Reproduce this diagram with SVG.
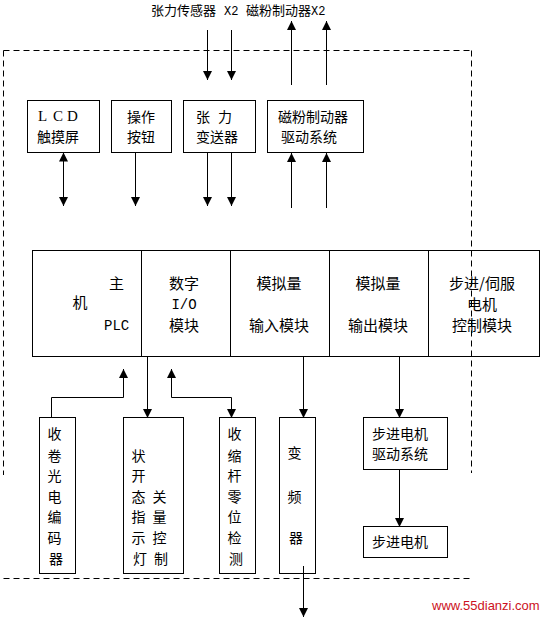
<svg xmlns="http://www.w3.org/2000/svg" width="545" height="618" viewBox="0 0 545 618">
<style>
  .box { fill: none; stroke: #000; stroke-width: 1; }
  .wb { fill: #fff; stroke: #000; stroke-width: 1; }
  .dash { fill: none; stroke: #000; stroke-width: 1; stroke-dasharray: 6 4; }
  .ln { fill: none; stroke: #000; stroke-width: 1; }
  .cn { font-family: "Noto Sans CJK SC", "DejaVu Sans", sans-serif; font-size: 14px; fill: #000; }
  .cm { font-family: "Noto Sans CJK SC", "DejaVu Sans", sans-serif; font-size: 15px; fill: #000; }
  .ct { font-family: "Noto Sans CJK SC", "DejaVu Sans", sans-serif; font-size: 13px; fill: #000; }
  .mono { font-family: "Liberation Mono", "DejaVu Sans Mono", monospace; fill: #000; }
  .serif { font-family: "Liberation Serif", "DejaVu Serif", serif; fill: #000; }
  .mid { text-anchor: middle; }
</style>
<defs>
  <marker id="ah" viewBox="0 0 10 10" refX="10" refY="5" markerWidth="9" markerHeight="9" markerUnits="userSpaceOnUse" orient="auto-start-reverse">
    <path d="M0,0 L10,5 L0,10 z" fill="#000"/>
  </marker>
</defs>
<rect width="545" height="618" fill="#fff"/>

<!-- top labels -->
<g id="top-labels">
  <text class="ct" x="151" y="15">张力传感器</text>
  <text class="mono" font-size="12" x="224" y="15">X2</text>
  <text class="ct" x="246" y="15">磁粉制动器</text>
  <text class="mono" font-size="12" x="311" y="15">X2</text>
</g>

<!-- top boxes -->
<g id="lcd">
  <rect class="wb" x="27.5" y="100.5" width="72" height="52"/>
  <text class="serif" font-size="15" x="38 53 67" y="121">LCD</text>
  <text class="cn" x="37" y="142">触摸屏</text>
</g>
<g id="buttons">
  <rect class="wb" x="111.5" y="100.5" width="60" height="52"/>
  <text class="cn" x="127" y="122">操作</text>
  <text class="cn" x="127" y="142">按钮</text>
</g>
<g id="tension-transmitter">
  <rect class="wb" x="183.5" y="100.5" width="72" height="52"/>
  <text class="cn" x="196" y="122">张</text>
  <text class="cn" x="218" y="122">力</text>
  <text class="cn" x="196" y="142">变送器</text>
</g>
<g id="brake-driver">
  <rect class="wb" x="267.5" y="100.5" width="96" height="52"/>
  <text class="cn" x="278" y="122">磁粉制动器</text>
  <text class="cn" x="281" y="142">驱动系统</text>
</g>

<!-- main row -->
<g id="plc">
  <rect class="box" x="32.5" y="250.5" width="109" height="106"/>
  <text class="cm" x="109" y="289">主</text>
  <text class="cm" x="72.5" y="308">机</text>
  <text class="mono" font-size="14" x="104" y="330">PLC</text>
</g>
<g id="digital-io">
  <rect class="box" x="141.5" y="250.5" width="89" height="106"/>
  <text class="cm mid" x="184" y="289">数字</text>
  <text class="mono mid" font-size="14" x="184" y="309">I/O</text>
  <text class="cm mid" x="184" y="331">模块</text>
</g>
<g id="analog-in">
  <rect class="box" x="230.5" y="250.5" width="99" height="106"/>
  <text class="cm mid" x="279" y="289">模拟量</text>
  <text class="cm mid" x="279" y="331">输入模块</text>
</g>
<g id="analog-out">
  <rect class="box" x="329.5" y="250.5" width="99" height="106"/>
  <text class="cm mid" x="378" y="289">模拟量</text>
  <text class="cm mid" x="378" y="331">输出模块</text>
</g>
<g id="step-servo">
  <rect class="box" x="428.5" y="250.5" width="111" height="106"/>
  <text class="cm mid" x="482" y="289">步进/伺服</text>
  <text class="cm mid" x="482" y="310">电机</text>
  <text class="cm mid" x="482" y="331">控制模块</text>
</g>

<!-- lower boxes -->
<g id="encoder">
  <rect class="wb" x="39.5" y="417.5" width="36" height="156"/>
  <text class="cn mid">
    <tspan x="56" y="439">收</tspan>
    <tspan x="56" y="461">卷</tspan>
    <tspan x="56" y="481">光</tspan>
    <tspan x="56" y="502">电</tspan>
    <tspan x="56" y="522">编</tspan>
    <tspan x="56" y="543">码</tspan>
    <tspan x="56" y="564">器</tspan>
  </text>
</g>
<g id="switch-indicator">
  <rect class="wb" x="123.5" y="417.5" width="60" height="156"/>
  <text class="cn mid">
    <tspan x="140" y="461">状</tspan>
    <tspan x="140" y="481">开</tspan>
    <tspan x="140" y="502">态</tspan>
    <tspan x="140" y="522">指</tspan>
    <tspan x="140" y="543">示</tspan>
    <tspan x="140" y="564">灯</tspan>
  </text>
  <text class="cn mid">
    <tspan x="161" y="502">关</tspan>
    <tspan x="161" y="522">量</tspan>
    <tspan x="161" y="543">控</tspan>
    <tspan x="161" y="564">制</tspan>
  </text>
</g>
<g id="zero-detect">
  <rect class="wb" x="219.5" y="417.5" width="36" height="156"/>
  <text class="cn mid">
    <tspan x="236" y="439">收</tspan>
    <tspan x="236" y="461">缩</tspan>
    <tspan x="236" y="481">杆</tspan>
    <tspan x="236" y="502">零</tspan>
    <tspan x="236" y="522">位</tspan>
    <tspan x="236" y="543">检</tspan>
    <tspan x="236" y="564">测</tspan>
  </text>
</g>
<g id="inverter">
  <rect class="wb" x="279.5" y="417.5" width="36" height="156"/>
  <text class="cn mid">
    <tspan x="296" y="458">变</tspan>
    <tspan x="296" y="502">频</tspan>
    <tspan x="296" y="543">器</tspan>
  </text>
</g>
<g id="stepper-driver">
  <rect class="wb" x="363.5" y="417.5" width="84" height="52"/>
  <text class="cn" x="372" y="439">步进电机</text>
  <text class="cn" x="372" y="459">驱动系统</text>
</g>
<g id="stepper-motor">
  <rect class="wb" x="363.5" y="526.5" width="84" height="31"/>
  <text class="cn" x="372" y="547">步进电机</text>
</g>

<!-- connectors -->
<g id="connectors">
  <line class="ln" x1="207.5" y1="30" x2="207.5" y2="80" marker-end="url(#ah)"/>
  <line class="ln" x1="231.5" y1="30" x2="231.5" y2="80" marker-end="url(#ah)"/>
  <line class="ln" x1="291.5" y1="85" x2="291.5" y2="21" marker-end="url(#ah)"/>
  <line class="ln" x1="326.5" y1="85" x2="326.5" y2="21" marker-end="url(#ah)"/>

  <line class="ln" x1="63.5" y1="152.5" x2="63.5" y2="206" marker-start="url(#ah)" marker-end="url(#ah)"/>
  <line class="ln" x1="135.5" y1="152.5" x2="135.5" y2="206" marker-end="url(#ah)"/>
  <line class="ln" x1="207.5" y1="152.5" x2="207.5" y2="206" marker-end="url(#ah)"/>
  <line class="ln" x1="231.5" y1="152.5" x2="231.5" y2="206" marker-end="url(#ah)"/>
  <line class="ln" x1="291.5" y1="208" x2="291.5" y2="153" marker-end="url(#ah)"/>
  <line class="ln" x1="326.5" y1="208" x2="326.5" y2="153" marker-end="url(#ah)"/>

  <polyline class="ln" points="51.5,417.5 51.5,397.5 123.5,397.5 123.5,369" marker-end="url(#ah)"/>
  <line class="ln" x1="147.5" y1="356.5" x2="147.5" y2="418" marker-end="url(#ah)"/>
  <polyline class="ln" points="171.5,369 171.5,397.5 231.5,397.5 231.5,418" marker-start="url(#ah)" marker-end="url(#ah)"/>
  <line class="ln" x1="303.5" y1="356.5" x2="303.5" y2="418" marker-end="url(#ah)"/>
  <line class="ln" x1="399.5" y1="356.5" x2="399.5" y2="418" marker-end="url(#ah)"/>
  <line class="ln" x1="399.5" y1="469.5" x2="399.5" y2="527" marker-end="url(#ah)"/>
  <line class="ln" x1="303.5" y1="566" x2="303.5" y2="617" marker-end="url(#ah)"/>
</g>

<!-- dashed boundary -->
<g id="boundary">
  <line class="dash" x1="3.5" y1="50.5" x2="471.5" y2="50.5"/>
  <line class="dash" x1="3.5" y1="50.5" x2="3.5" y2="475"/>
  <line class="dash" x1="471.5" y1="50.5" x2="471.5" y2="473"/>
  <line class="dash" x1="3.5" y1="578.5" x2="472" y2="578.5"/>
</g>

<text x="432" y="610" font-family="Liberation Sans, Arial, sans-serif" font-size="13" fill="#cc1122">www.55dianzi.com</text>
</svg>
